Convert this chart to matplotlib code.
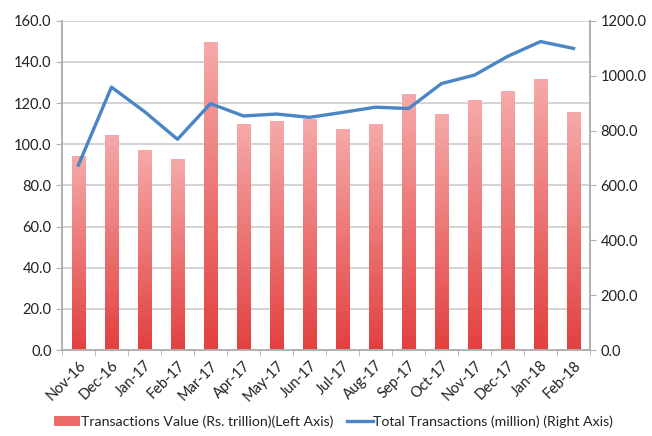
import matplotlib
matplotlib.use("Agg")
import matplotlib.pyplot as plt
import numpy as np
from matplotlib.colors import LinearSegmentedColormap
from matplotlib.patches import Patch
from matplotlib.lines import Line2D

plt.rcParams['font.family'] = ['Lato', 'DejaVu Sans']

months = ["Nov-16", "Dec-16", "Jan-17", "Feb-17", "Mar-17", "Apr-17", "May-17", "Jun-17",
          "Jul-17", "Aug-17", "Sep-17", "Oct-17", "Nov-17", "Dec-17", "Jan-18", "Feb-18"]
value_trillion = [94.2, 104.4, 97.2, 92.7, 149.6, 109.7, 111.2, 112.5,
                  107.6, 110.0, 124.6, 114.5, 121.3, 125.7, 131.9, 115.7]
volume_million = [674, 958, 869, 768, 898, 853, 860, 848,
                  866, 885, 880, 971, 1002, 1070, 1124, 1099]
left_ticks = [0, 20, 40, 60, 80, 100, 120, 140, 160]
right_ticks = [0, 200, 400, 600, 800, 1000, 1200]

fig = plt.figure(figsize=(6.52, 4.36), dpi=100)
ax = fig.add_axes([0.095, 0.197, 0.81, 0.7555])
ax2 = ax.twinx()

x = np.arange(len(months))
bars = ax.bar(x, value_trillion, width=0.4, color='none', edgecolor='none', zorder=2)
cmap = LinearSegmentedColormap.from_list('g', ['#e2403f', '#f5aaa9'])
grad = np.linspace(0, 1, 256).reshape(-1, 1)
for b in bars:
    x0, y0 = b.get_x(), b.get_y()
    w, h = b.get_width(), b.get_height()
    im = ax.imshow(grad, cmap=cmap, extent=[x0, x0 + w, 0, h], origin='lower',
                   aspect='auto', zorder=2, interpolation='bicubic')
    im.set_clip_path(b)

ax.set_xlim(-0.5, len(months) - 0.5)
ax.set_ylim(0, 160)
ax.set_yticks(left_ticks)
ax.set_yticklabels([f"{v:.1f}" for v in left_ticks])
ax.yaxis.grid(True, color='#cccccc', linewidth=1.2, zorder=0)
ax.set_axisbelow(True)
ax.set_xticks(x)
ax.set_xticklabels(months, rotation=45, ha='right', rotation_mode='anchor')
ax.set_xticks(np.arange(-0.5, len(months)), minor=True)
ax.tick_params(axis='x', which='major', length=0, pad=6, labelsize=10.5, colors='#222222')
ax.tick_params(axis='x', which='minor', length=4, color='#b0b0b0')
ax.tick_params(axis='y', length=4, color='#b0b0b0', labelsize=10.5, labelcolor='#222222')

ax2.plot(x, volume_million, color='#4a86c6', linewidth=2.4, zorder=3)
ax2.set_ylim(0, 1200)
ax2.set_yticks(right_ticks)
ax2.set_yticklabels([f"{v:.1f}" for v in right_ticks])
ax2.tick_params(axis='y', length=4, color='#b0b0b0', labelsize=10.5, labelcolor='#222222')

for a in (ax, ax2):
    a.spines['top'].set_visible(False)
    for s in ('left', 'right', 'bottom'):
        a.spines[s].set_color('#b0b0b0')
        a.spines[s].set_linewidth(1.2)

handles = [Patch(facecolor='#ea6b6a', edgecolor='none'),
           Line2D([0], [0], color='#4a86c6', linewidth=2.4)]
labels = ["Transactions Value (Rs. trillion)(Left Axis)",
          "Total Transactions (million) (Right Axis)"]
fig.legend(handles, labels, loc='lower center', bbox_to_anchor=(0.512, -0.01), ncol=2,
           frameon=False, fontsize=10.2, handlelength=1.8, handletextpad=0.05,
           columnspacing=1.0, labelcolor='#222222')

fig.savefig('out.png', dpi=100, facecolor='white')
